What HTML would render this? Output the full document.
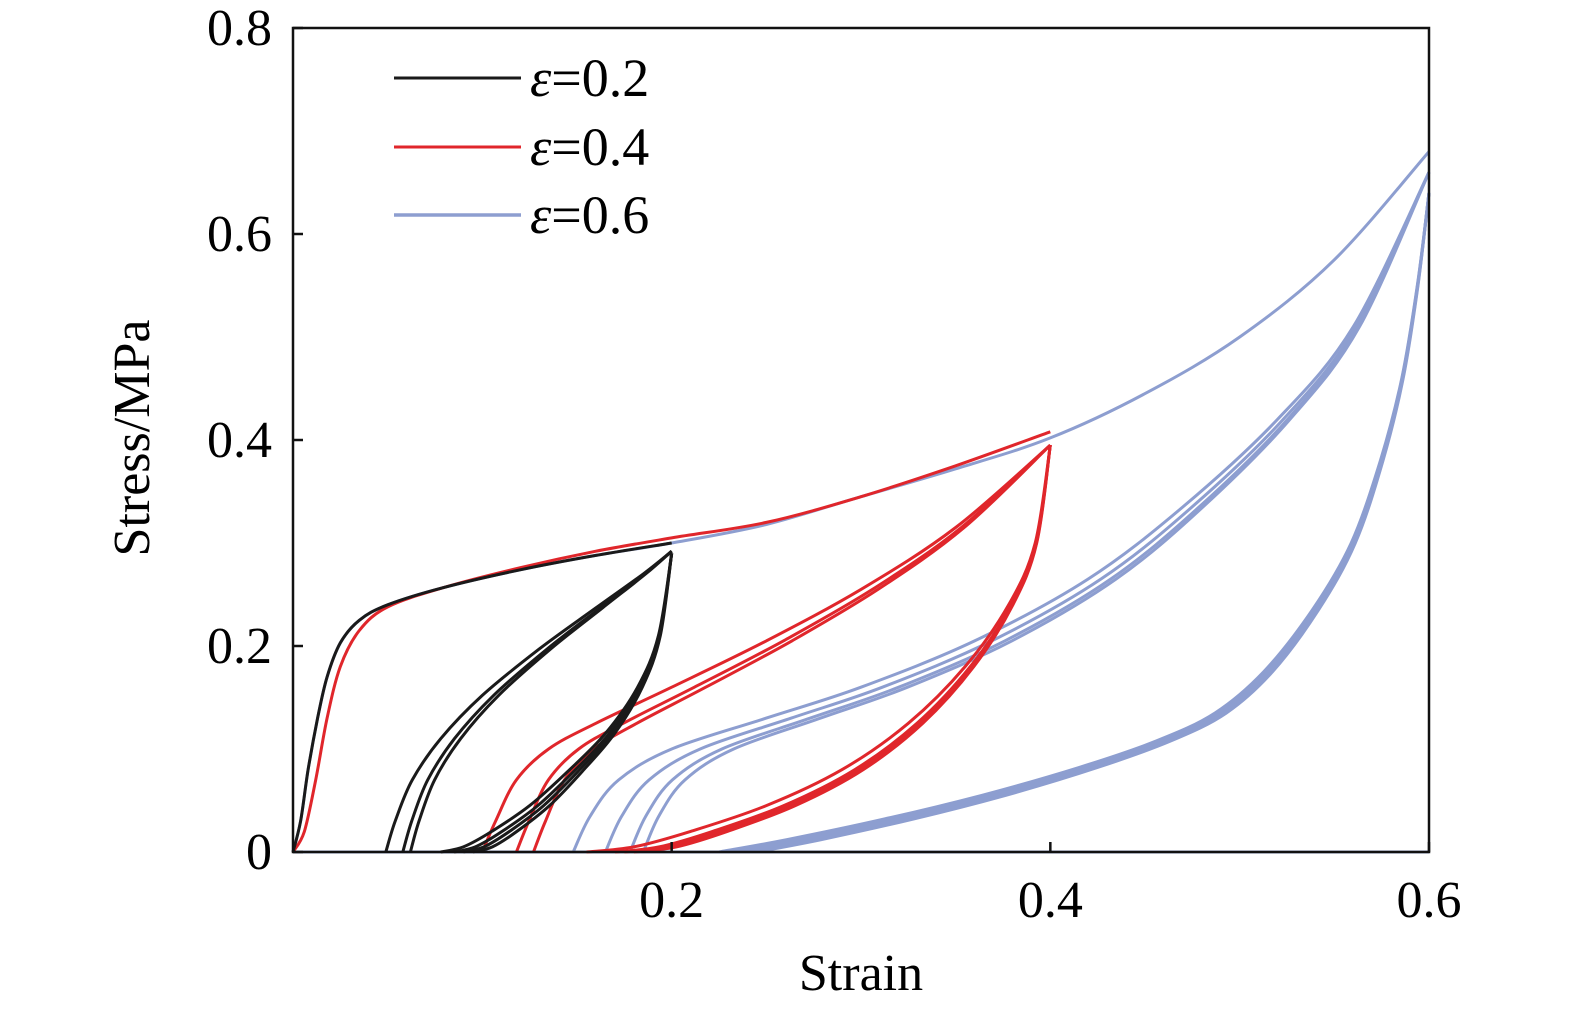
<!DOCTYPE html>
<html><head><meta charset="utf-8"><style>
html,body{margin:0;padding:0;background:#fff;}
svg{display:block;font-family:"Liberation Serif",serif;}
</style></head><body>
<svg id="chart" width="1575" height="1010" viewBox="0 0 1575 1010">
<g id="curves"></g>
<rect x="293" y="28" width="1136" height="824" fill="none" stroke="#111" stroke-width="2.5"/>
<g id="axes"></g>
<text x="861" y="990" font-size="52" text-anchor="middle">Strain</text>
<text transform="translate(149,438) rotate(-90)" font-size="52" text-anchor="middle">Stress/MPa</text>
<g>
<g><line x1="394" y1="78" x2="521" y2="78" stroke="#1a1a1a" stroke-width="3"/><text x="530" y="96" font-size="54"><tspan font-style="italic">ε</tspan>=0.2</text></g>
<g><line x1="394" y1="147" x2="521" y2="147" stroke="#e0262b" stroke-width="3"/><text x="530" y="165" font-size="54"><tspan font-style="italic">ε</tspan>=0.4</text></g>
<g><line x1="394" y1="215" x2="521" y2="215" stroke="#8d9ed0" stroke-width="3.5"/><text x="530" y="233" font-size="54"><tspan font-style="italic">ε</tspan>=0.6</text></g>
</g>
</svg>
<script>
const xTicks=[0.2,0.4,0.6];
const yTicks=[0,0.2,0.4,0.6,0.8];
const yTickLabels=["0","0.2","0.4","0.6","0.8"];
const loadCurve=[[0,0],[0.004,0.03],[0.008,0.08],[0.013,0.13],[0.018,0.17],[0.025,0.203],[0.035,0.225],[0.05,0.24],[0.08,0.257],[0.12,0.274],[0.16,0.288],[0.2,0.3]];
const loadRedLow=[[0,0],[0.006,0.02],[0.012,0.07],[0.018,0.13],[0.025,0.18],[0.035,0.215],[0.05,0.238],[0.08,0.257],[0.12,0.276],[0.16,0.292],[0.2,0.305],[0.25,0.32],[0.3,0.345],[0.35,0.375],[0.4,0.408]];
const loadBlue=[[0.2,0.3],[0.25,0.318],[0.3,0.345],[0.35,0.372],[0.4,0.402],[0.45,0.445],[0.5,0.5],[0.55,0.575],[0.6,0.68]];
const blackReload=[[0.049,0],[0.054,0.03],[0.063,0.07],[0.078,0.11],[0.1,0.152],[0.13,0.197],[0.16,0.237],[0.185,0.27],[0.2,0.292]];
const blackUnload=[[0.2,0.29],[0.193,0.21],[0.182,0.16],[0.165,0.115],[0.145,0.078],[0.125,0.045],[0.105,0.02],[0.09,0.005],[0.078,0]];
const blackReloadStarts=[0.049,0.058,0.062];
const blackUnloadEnds=[0.078,0.085,0.09,0.095];
const redReload=[[0.1,0],[0.107,0.03],[0.118,0.07],[0.135,0.1],[0.16,0.125],[0.2,0.16],[0.25,0.205],[0.3,0.255],[0.35,0.315],[0.4,0.395]];
const redUnload=[[0.4,0.395],[0.392,0.3],[0.378,0.24],[0.355,0.18],[0.325,0.125],[0.29,0.08],[0.25,0.045],[0.21,0.02],[0.18,0.005],[0.155,0]];
const redReloadStarts=[0.1,0.118,0.127];
const redUnloadEnds=[0.155,0.17,0.175,0.18];
const blueReload=[[0.148,0],[0.157,0.035],[0.172,0.07],[0.2,0.1],[0.25,0.13],[0.3,0.16],[0.36,0.205],[0.42,0.265],[0.47,0.335],[0.52,0.42],[0.56,0.51],[0.6,0.66]];
const blueUnload=[[0.6,0.64],[0.594,0.55],[0.586,0.46],[0.575,0.38],[0.56,0.3],[0.54,0.235],[0.515,0.175],[0.49,0.135],[0.46,0.108],[0.42,0.082],[0.37,0.055],[0.32,0.032],[0.27,0.012],[0.235,0]];
const blueReloadStarts=[0.148,0.165,0.178,0.185];
const blueUnloadEnds=[0.225,0.23,0.235,0.24,0.245];

const X0=293,X1=1429,Y0=852,Y1=28;
const sx=v=>X0+(v/0.6)*(X1-X0);
const sy=v=>Y0-(v/0.8)*(Y0-Y1);
const NS="http://www.w3.org/2000/svg";
function pathD(pts){
  const p=pts.map(q=>[sx(q[0]),sy(q[1])]);
  let d="M"+p[0][0].toFixed(1)+","+p[0][1].toFixed(1);
  for(let i=0;i<p.length-1;i++){
    const a=p[i-1]||p[i],b=p[i],c=p[i+1],e=p[i+2]||c;
    const c1=[b[0]+(c[0]-a[0])/6,b[1]+(c[1]-a[1])/6],c2=[c[0]-(e[0]-b[0])/6,c[1]-(e[1]-b[1])/6];
    d+="C"+c1.map(v=>v.toFixed(1)).join(",")+" "+c2.map(v=>v.toFixed(1)).join(",")+" "+c[0].toFixed(1)+","+c[1].toFixed(1);
  }
  return d;
}
function shifted(base,start,peakX){
  const b0=base[0][0]===peakX?base[base.length-1][0]:base[0][0];
  return base.map(q=>{const f=(peakX-q[0])/(peakX-b0);return [q[0]+(start-b0)*f,q[1]];});
}
const g=document.getElementById("curves");
function draw(pts,color,w,name){
  const el=document.createElementNS(NS,"path");
  el.setAttribute("d",pathD(pts));
  el.setAttribute("fill","none");el.setAttribute("stroke",color);el.setAttribute("stroke-width",w);
  
  
  g.appendChild(el);
}
const BL="#8d9ed0",RD="#e0262b",BK="#1a1a1a";
draw([[0,0],[0.6,0]],BL,3,"baseline");
draw(loadCurve.concat(loadBlue.slice(1)),BL,3,"blue-loading");
blueReloadStarts.forEach((s,i)=>draw(shifted(blueReload,s,0.6),BL,3,"blue-reload-"+i));
blueUnloadEnds.forEach((s,i)=>draw(shifted(blueUnload,s,0.6),BL,3,"blue-unload-"+i));
draw(loadRedLow,RD,3,"red-loading");
redReloadStarts.forEach((s,i)=>draw(shifted(redReload,s,0.4),RD,3,"red-reload-"+i));
redUnloadEnds.forEach((s,i)=>draw(shifted(redUnload,s,0.4),RD,3,"red-unload-"+i));
draw(loadCurve,BK,3,"black-loading");
blackReloadStarts.forEach((s,i)=>draw(shifted(blackReload,s,0.2),BK,3,"black-reload-"+i));
blackUnloadEnds.forEach((s,i)=>draw(shifted(blackUnload,s,0.2),BK,3,"black-unload-"+i));

const ax=document.getElementById("axes");
xTicks.forEach((t,i)=>{
  const l=document.createElementNS(NS,"line");
  l.setAttribute("x1",sx(t));l.setAttribute("x2",sx(t));l.setAttribute("y1",Y0);l.setAttribute("y2",Y0-10);
  l.setAttribute("stroke","#111");l.setAttribute("stroke-width","2.5");
  
  
  ax.appendChild(l);
  const tx=document.createElementNS(NS,"text");
  tx.setAttribute("x",sx(t));tx.setAttribute("y",917);tx.setAttribute("font-size","52");tx.setAttribute("text-anchor","middle");
  tx.textContent=t.toFixed(1);
  
  
  ax.appendChild(tx);
});
yTicks.forEach((t,i)=>{
  const l=document.createElementNS(NS,"line");
  l.setAttribute("x1",X0);l.setAttribute("x2",X0+10);l.setAttribute("y1",sy(t));l.setAttribute("y2",sy(t));
  l.setAttribute("stroke","#111");l.setAttribute("stroke-width","2.5");
  
  
  ax.appendChild(l);
  const tx=document.createElementNS(NS,"text");
  tx.setAttribute("x",272);tx.setAttribute("y",sy(t)+17);tx.setAttribute("font-size","52");tx.setAttribute("text-anchor","end");
  tx.textContent=yTickLabels[i];
  
  
  ax.appendChild(tx);
});
</script>
</body></html>
